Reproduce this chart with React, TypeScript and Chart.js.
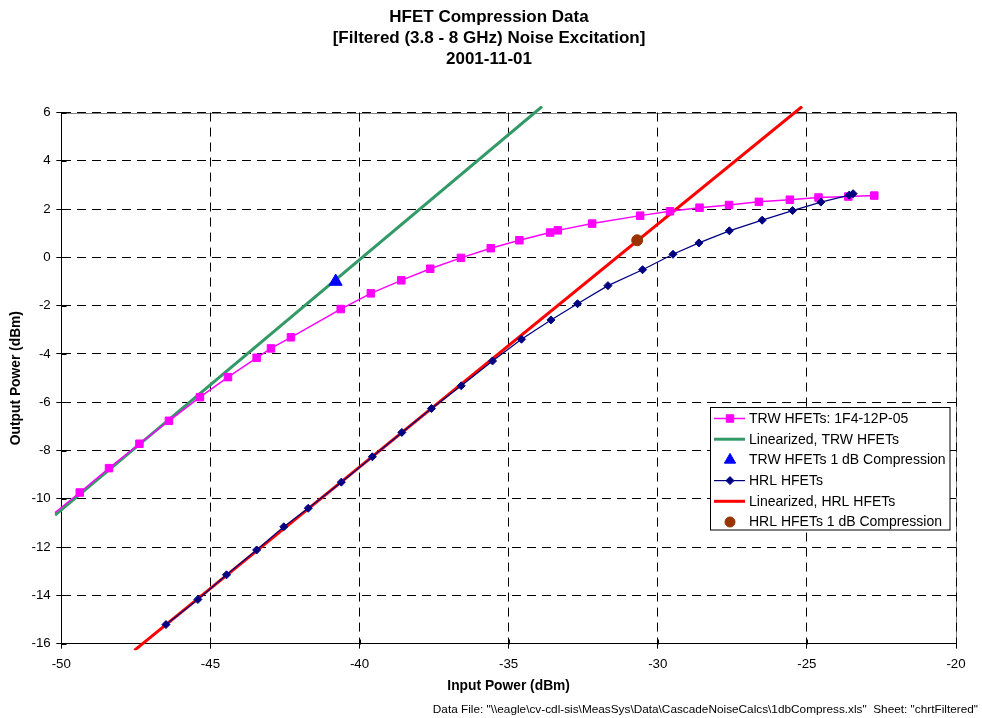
import React, { useEffect, useRef } from 'react';
import { Chart, registerables } from 'chart.js';
import { drawPoint } from 'chart.js/helpers';

Chart.register(...registerables);

// ---------- data ----------
const titleLines = ['HFET Compression Data', '[Filtered (3.8 - 8 GHz) Noise Excitation]', '2001-11-01'];
const xAxisTitle = 'Input Power (dBm)';
const yAxisTitle = 'Output Power (dBm)';
const footerText = 'Data File: "\\\\eagle\\cv-cdl-sis\\MeasSys\\Data\\CascadeNoiseCalcs\\1dbCompress.xls"  Sheet: "chrtFiltered"';

const xMin = -50;
const xMax = -20;
const xStep = 5;
const yMin = -16;
const yMax = 6;
const yStep = 2;

const seriesNames = [
  'TRW HFETs: 1F4-12P-05',
  'Linearized, TRW HFETs',
  'TRW HFETs 1 dB Compression',
  'HRL HFETs',
  'Linearized, HRL HFETs',
  'HRL HFETs 1 dB Compression',
];

const trwX = [-50.38, -49.38, -48.40, -47.38, -46.39, -45.35, -44.41, -43.45, -42.97, -42.30, -40.63, -39.62, -38.60, -37.63, -36.60, -35.60, -34.64, -33.61, -33.35, -32.20, -30.59, -29.59, -28.60, -27.61, -26.61, -25.57, -24.61, -23.61, -22.74];
const trwY = [-10.74, -9.74, -8.73, -7.72, -6.77, -5.79, -4.96, -4.16, -3.77, -3.31, -2.14, -1.49, -0.95, -0.47, -0.02, 0.38, 0.71, 1.03, 1.12, 1.40, 1.73, 1.91, 2.06, 2.17, 2.30, 2.39, 2.48, 2.52, 2.56];

const trwLinX = [-50.21, -33.88];
const trwLinY = [-10.68, 6.25];

const trwCompX = [-40.8];
const trwCompY = [-1.0];

const hrlX = [-46.49, -45.42, -44.46, -43.45, -42.54, -41.72, -40.61, -39.57, -38.58, -37.59, -36.59, -35.54, -34.57, -33.58, -32.69, -31.67, -30.51, -29.49, -28.62, -27.60, -26.50, -25.48, -24.53, -23.58, -23.45];
const hrlY = [-15.21, -14.17, -13.15, -12.12, -11.16, -10.39, -9.31, -8.26, -7.25, -6.26, -5.32, -4.29, -3.39, -2.59, -1.92, -1.17, -0.51, 0.13, 0.60, 1.10, 1.54, 1.94, 2.29, 2.58, 2.64];

const hrlLinX = [-47.55, -25.16];
const hrlLinY = [-16.28, 6.25];

const hrlCompX = [-30.69];
const hrlCompY = [0.71];

const zip = (xs: number[], ys: number[]) => xs.map((x, i) => ({ x, y: ys[i] }));

const FONT = "'Liberation Sans', Arial, Helvetica, sans-serif";

// ---------- plugins ----------
const backgroundPlugin = {
  id: 'bgAndFrame',
  beforeDraw(chart: any) {
    const { ctx, chartArea: ca } = chart;
    ctx.save();
    ctx.fillStyle = '#ffffff';
    ctx.fillRect(0, 0, chart.width, chart.height);
    ctx.strokeStyle = '#808080';
    ctx.lineWidth = 1;
    ctx.beginPath();
    const t = Math.round(ca.top) + 0.5;
    const r = Math.round(ca.right) + 0.5;
    ctx.moveTo(ca.left, t);
    ctx.lineTo(r, t);
    ctx.lineTo(r, ca.bottom);
    ctx.stroke();
    ctx.restore();
  },
  beforeDatasetsDraw(chart: any) {
    // inner half of the crossing tick marks
    const { ctx, chartArea: ca, scales } = chart;
    ctx.save();
    ctx.strokeStyle = '#000';
    ctx.lineWidth = 1;
    ctx.beginPath();
    const b = Math.round(ca.bottom) + 0.5;
    const l = Math.round(ca.left) + 0.5;
    scales.x.ticks.forEach((tk: any) => {
      const px = Math.round(scales.x.getPixelForValue(tk.value)) + 0.5;
      ctx.moveTo(px, b);
      ctx.lineTo(px, b - 5);
    });
    scales.y.ticks.forEach((tk: any) => {
      const py = Math.round(scales.y.getPixelForValue(tk.value)) + 0.5;
      ctx.moveTo(l, py);
      ctx.lineTo(l + 5, py);
    });
    ctx.stroke();
    ctx.restore();
  },
};

const legendBoxPlugin = {
  id: 'legendBox',
  afterDraw(chart: any) {
    const { ctx } = chart;
    const boxL = 710.5;
    const boxT = 407.5;
    const boxW = 239.5;
    const boxH = 122.5;
    const rowH = 20.7;
    ctx.save();
    ctx.fillStyle = '#ffffff';
    ctx.fillRect(boxL, boxT, boxW, boxH);
    ctx.strokeStyle = '#000000';
    ctx.lineWidth = 1;
    ctx.strokeRect(boxL, boxT, boxW, boxH);
    chart.data.datasets.forEach((ds: any, i: number) => {
      const y = boxT + 11 + i * rowH;
      if (ds.showLine) {
        ctx.strokeStyle = ds.borderColor;
        ctx.lineWidth = ds.legendLineWidth || ds.borderWidth;
        ctx.beginPath();
        ctx.moveTo(714, y);
        ctx.lineTo(745, y);
        ctx.stroke();
      }
      if (ds.pointRadius > 0) {
        ctx.fillStyle = ds.pointBackgroundColor || ds.backgroundColor;
        ctx.strokeStyle = ds.pointBorderColor || ds.borderColor;
        ctx.lineWidth = ds.pointBorderWidth || 1;
        drawPoint(ctx, {
          pointStyle: ds.pointStyle,
          rotation: 0,
          radius: ds.legendPointRadius || ds.pointRadius,
          borderWidth: ds.pointBorderWidth || 1,
        } as any, 730, y);
      }
      ctx.fillStyle = '#000';
      ctx.font = `14px ${FONT}`;
      ctx.textAlign = 'left';
      ctx.textBaseline = 'middle';
      ctx.fillText(ds.label, 749, y + 0.5);
    });
    ctx.restore();
  },
};

export default function App() {
  const canvasRef = useRef<HTMLCanvasElement | null>(null);

  useEffect(() => {
    const canvas = canvasRef.current;
    if (!canvas) return;
    Chart.defaults.color = '#000';
    const chart = new Chart(canvas, {
      type: 'scatter',
      data: {
        datasets: [
          {
            label: seriesNames[0],
            data: zip(trwX, trwY),
            showLine: true,
            borderColor: '#FF00FF',
            backgroundColor: '#FF00FF',
            borderWidth: 1.5,
            pointStyle: 'rect',
            pointRadius: 5.3,
            pointBorderWidth: 1,
            legendPointRadius: 5.3,
            order: 3,
            clip: 6.5,
          } as any,
          {
            label: seriesNames[1],
            data: zip(trwLinX, trwLinY),
            showLine: true,
            borderColor: '#339966',
            backgroundColor: '#339966',
            borderWidth: 3,
            pointRadius: 0,
            order: 5,
            clip: 6.5,
          } as any,
          {
            label: seriesNames[2],
            data: zip(trwCompX, trwCompY),
            showLine: false,
            borderColor: '#0000FF',
            backgroundColor: '#0000FF',
            pointStyle: 'triangle',
            pointRadius: 7.5,
            pointBorderWidth: 1,
            legendPointRadius: 6.5,
            order: 1,
          } as any,
          {
            label: seriesNames[3],
            data: zip(hrlX, hrlY),
            showLine: true,
            borderColor: '#000080',
            backgroundColor: '#000080',
            borderWidth: 1.25,
            pointStyle: 'rectRot',
            pointRadius: 4,
            pointBorderWidth: 1,
            legendPointRadius: 4,
            order: 2,
            clip: 6.5,
          } as any,
          {
            label: seriesNames[4],
            data: zip(hrlLinX, hrlLinY),
            showLine: true,
            borderColor: '#FF0000',
            backgroundColor: '#FF0000',
            borderWidth: 3,
            pointRadius: 0,
            order: 4,
            clip: 6.5,
          } as any,
          {
            label: seriesNames[5],
            data: zip(hrlCompX, hrlCompY),
            showLine: false,
            borderColor: '#993300',
            backgroundColor: '#993300',
            pointStyle: 'circle',
            pointRadius: 5.5,
            pointBorderWidth: 1,
            legendPointRadius: 5,
            order: 0,
          } as any,
        ],
      },
      options: {
        animation: false,
        responsive: false,
        devicePixelRatio: 1,
        events: [],
        layout: { padding: { left: 0, right: 4, top: 0, bottom: 0 } },
        elements: { line: { tension: 0 } },
        plugins: {
          legend: { display: false },
          tooltip: { enabled: false },
          title: {
            display: true,
            text: titleLines,
            color: '#000',
            font: { family: FONT, size: 17, weight: 'bold', lineHeight: 1.25 },
            padding: { top: 6.55, bottom: 42.25 },
          },
          subtitle: {
            display: true,
            position: 'bottom',
            align: 'end',
            text: footerText,
            color: '#000',
            font: { family: FONT, size: 11.8, lineHeight: 1.2 },
            padding: { top: 0, bottom: 1.5 },
          },
        },
        scales: {
          x: {
            type: 'linear',
            position: 'bottom',
            min: xMin,
            max: xMax,
            afterFit: (s: any) => { s.height = 58.7; },
            ticks: {
              stepSize: xStep,
              padding: 7.8,
              color: '#000',
              font: { family: FONT, size: 13.3, lineHeight: 1.2 },
              maxRotation: 0,
            },
            grid: { color: '#000', lineWidth: 1, tickLength: 5, tickColor: '#000' },
            border: { display: true, color: '#000', width: 1, dash: [9, 6] },
            title: {
              display: true,
              text: xAxisTitle,
              color: '#000',
              font: { family: FONT, size: 13.8, weight: 'bold', lineHeight: 1.2 },
              padding: { top: 0, bottom: 8.1 },
            },
          },
          y: {
            type: 'linear',
            position: 'left',
            min: yMin,
            max: yMax,
            afterFit: (s: any) => { s.width = 61.3; },
            ticks: {
              stepSize: yStep,
              padding: 5.6,
              color: '#000',
              font: { family: FONT, size: 13.3, lineHeight: 1.2 },
            },
            grid: { color: '#000', lineWidth: 1, tickLength: 5, tickColor: '#000' },
            border: { display: true, color: '#000', width: 1, dash: [9, 6] },
            title: {
              display: true,
              text: yAxisTitle,
              color: '#000',
              font: { family: FONT, size: 13.8, weight: 'bold', lineHeight: 1.2 },
              padding: { top: 7.7, bottom: 0 },
            },
          },
          yR: {
            type: 'linear',
            position: 'right',
            display: true,
            afterFit: (s: any) => { s.width = 22; },
            ticks: { display: false },
            grid: { display: false, drawTicks: false },
            border: { display: false },
          },
        },
      } as any,
      plugins: [backgroundPlugin, legendBoxPlugin],
    });
    return () => chart.destroy();
  }, []);

  return (
    <div style={{ position: 'absolute', left: 0, top: 0, width: 982, height: 718, background: '#fff' }}>
      <canvas ref={canvasRef} width={982} height={718} style={{ width: 982, height: 718, display: 'block' }} />
    </div>
  );
}
